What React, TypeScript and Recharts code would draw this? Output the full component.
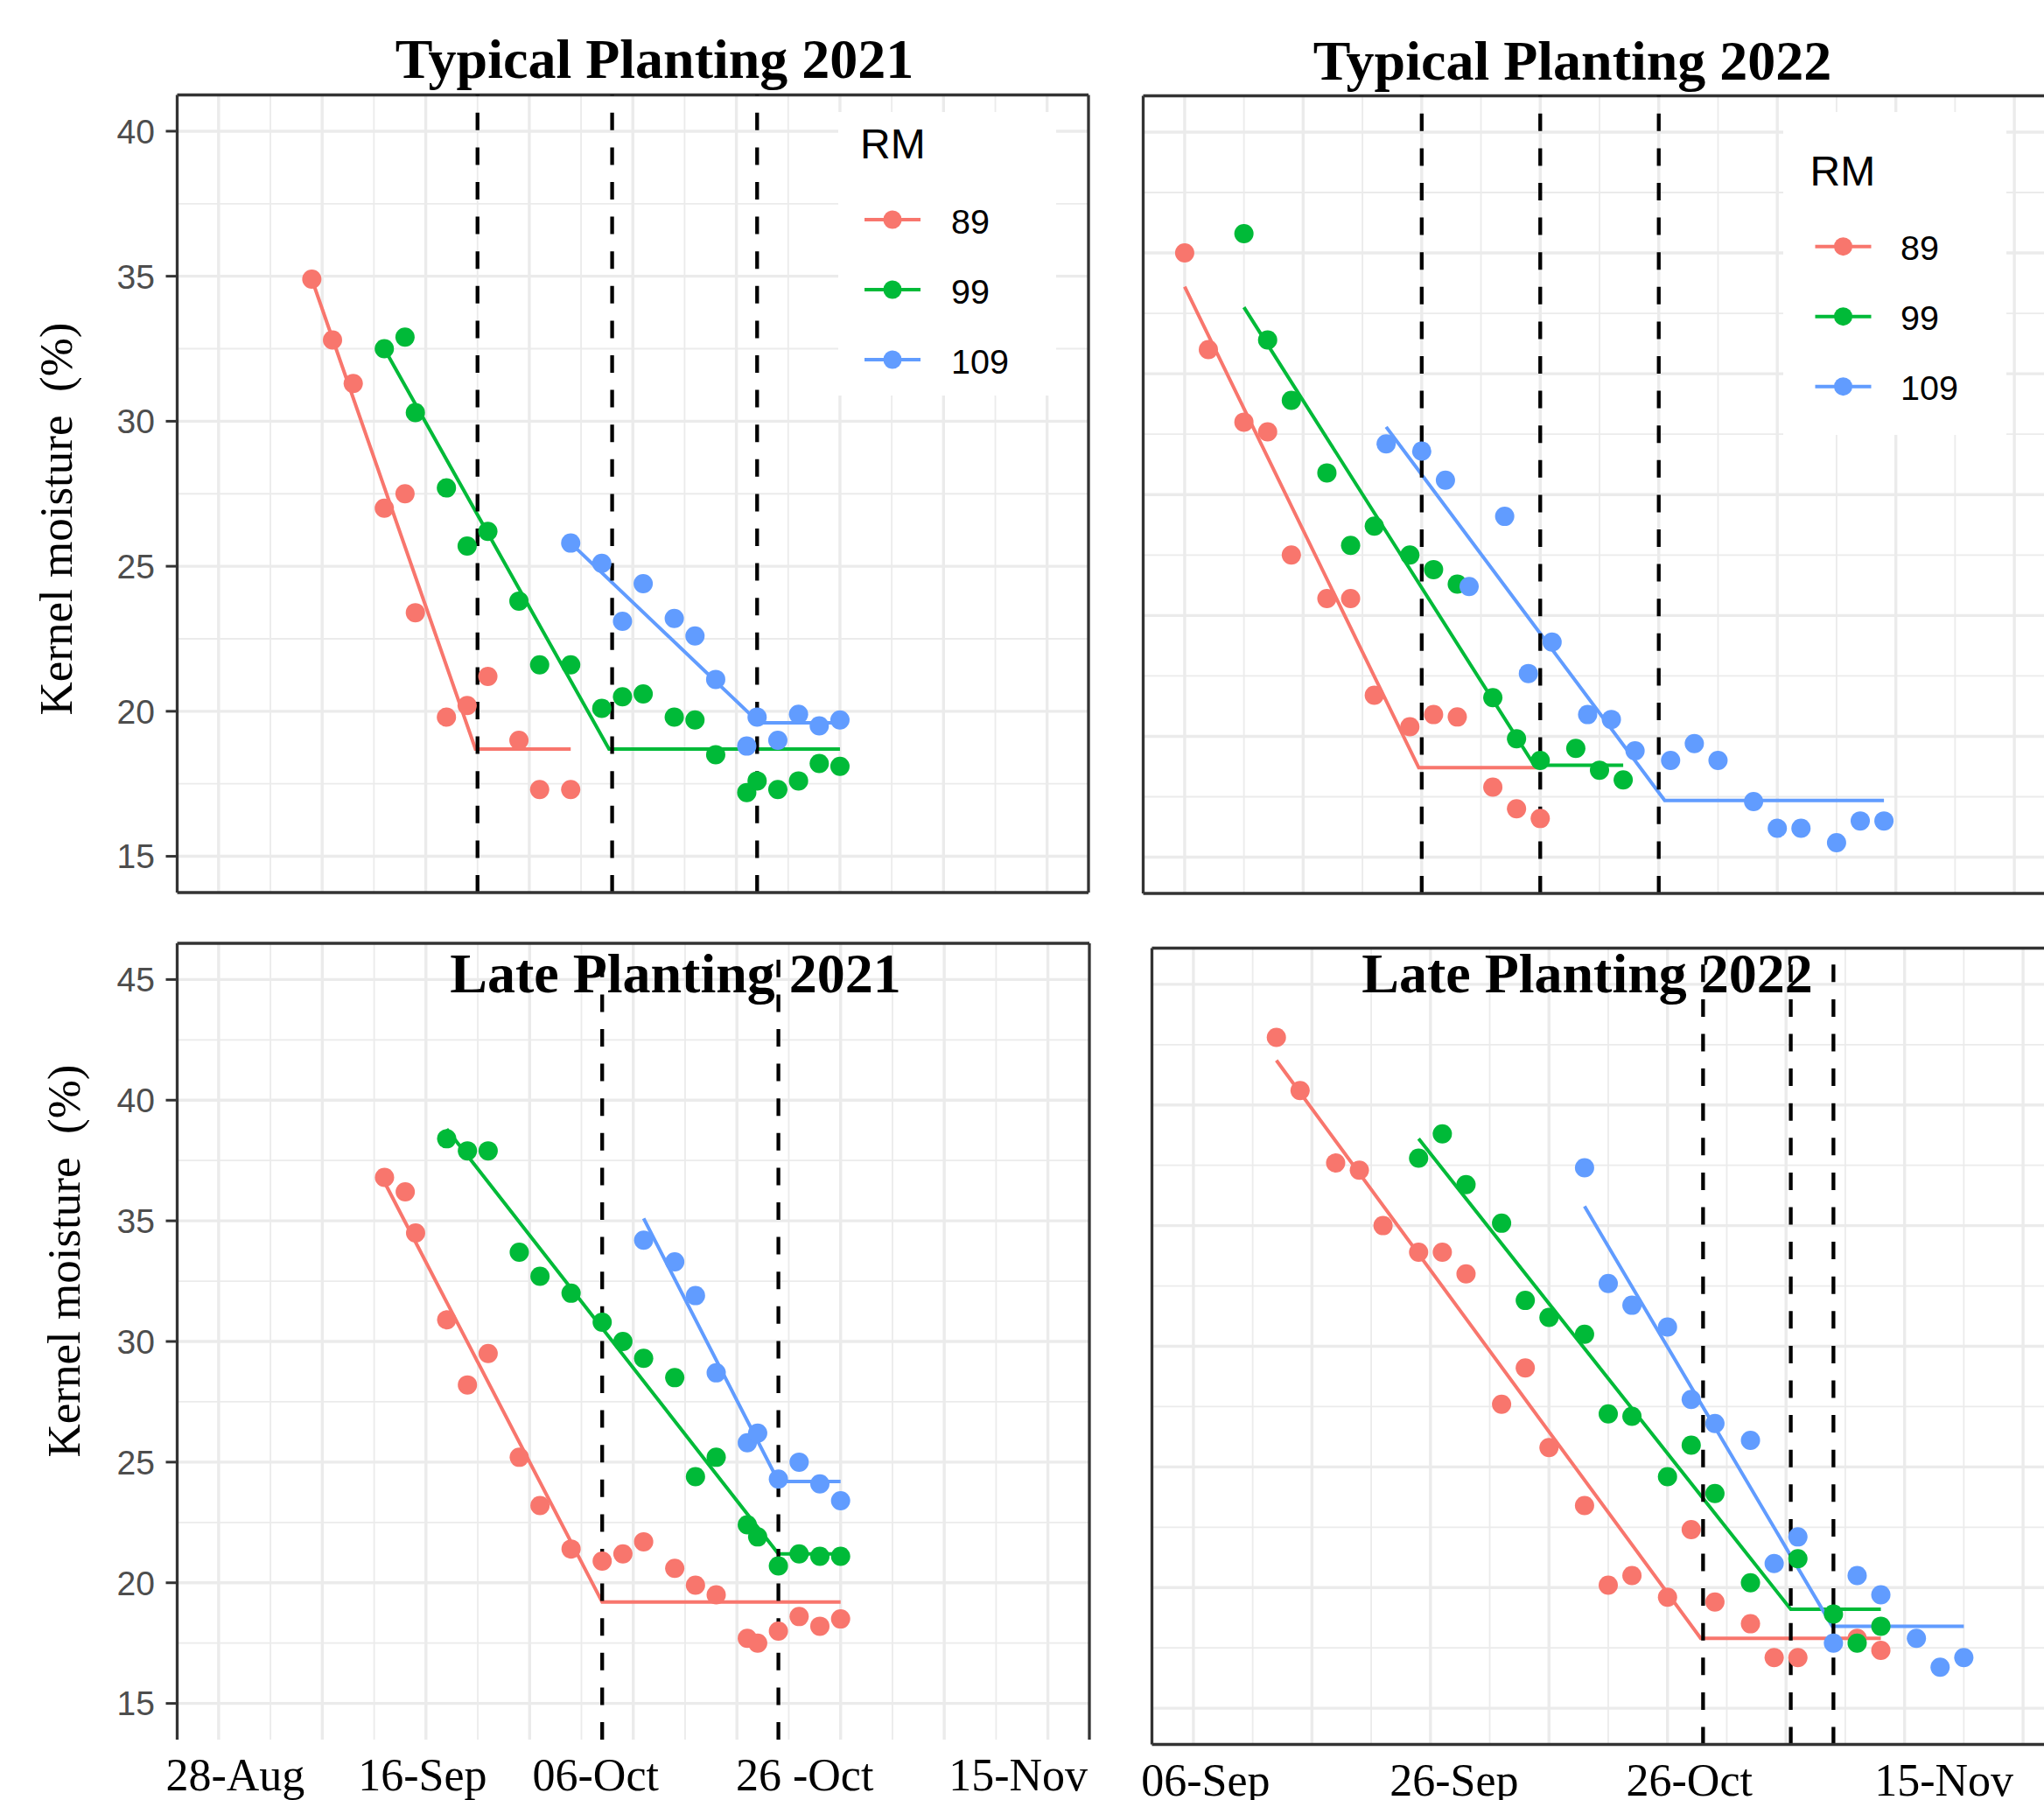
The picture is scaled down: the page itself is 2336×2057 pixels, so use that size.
import React from "react";
import { ComposedChart, Line, XAxis, YAxis, ReferenceLine, Legend } from "recharts";

const RM_LABELS = ["89", "99", "109"];
const RM_COLORS = ["#F8766D", "#00BA38", "#619CFF"];
const GRID = "#EBEBEB";
const INK = "#333333";

// Typical planting 2021, days after 27-Aug
const TP21_DAY_89 = [9, 11, 13, 16, 18, 19, 22, 24, 26, 29, 31, 34];
const TP21_KM_89 = [34.9, 32.8, 31.3, 27.0, 27.5, 23.4, 19.8, 20.2, 21.2, 19.0, 17.3, 17.3];
const TP21_DAY_99 = [16, 18, 19, 22, 24, 26, 29, 31, 34, 37, 39, 41, 44, 46, 48, 51, 52, 54, 56, 58, 60];
const TP21_KM_99 = [32.5, 32.9, 30.3, 27.7, 25.7, 26.2, 23.8, 21.6, 21.6, 20.1, 20.5, 20.6, 19.8, 19.7, 18.5, 17.2, 17.6, 17.3, 17.6, 18.2, 18.1];
const TP21_DAY_109 = [34, 37, 39, 41, 44, 46, 48, 51, 52, 54, 56, 58, 60];
const TP21_KM_109 = [25.8, 25.1, 23.1, 24.4, 23.2, 22.6, 21.1, 18.8, 19.8, 19.0, 19.9, 19.5, 19.7];
const TP21_FIT_DAY = [[9, 24.8, 34], [16, 37.7, 60], [34, 52.2, 60]];
const TP21_FIT_KM = [[34.9, 18.7, 18.7], [32.5, 18.7, 18.7], [25.8, 19.6, 19.6]];
const TP21_MATURITY = [25, 38, 52];

// Late planting 2021, days after 27-Aug
const LP21_DAY_89 = [16, 18, 19, 22, 24, 26, 29, 31, 34, 37, 39, 41, 44, 46, 48, 51, 52, 54, 56, 58, 60];
const LP21_KM_89 = [36.8, 36.2, 34.5, 30.9, 28.2, 29.5, 25.2, 23.2, 21.4, 20.9, 21.2, 21.7, 20.6, 19.9, 19.5, 17.7, 17.5, 18.0, 18.6, 18.2, 18.5];
const LP21_DAY_99 = [22, 24, 26, 29, 31, 34, 37, 39, 41, 44, 46, 48, 51, 52, 54, 56, 58, 60];
const LP21_KM_99 = [38.4, 37.9, 37.9, 33.7, 32.7, 32.0, 30.8, 30.0, 29.3, 28.5, 24.4, 25.2, 22.4, 21.9, 20.7, 21.2, 21.1, 21.1];
const LP21_DAY_109 = [41, 44, 46, 48, 51, 52, 54, 56, 58, 60];
const LP21_KM_109 = [34.2, 33.3, 31.9, 28.7, 25.8, 26.2, 24.3, 25.0, 24.1, 23.4];
const LP21_FIT_DAY = [[16, 37, 60], [22, 54, 60], [41, 54, 60]];
const LP21_FIT_KM = [[36.6, 19.2, 19.2], [38.8, 21.2, 21.2], [35.1, 24.2, 24.2]];
const LP21_MATURITY = [37, 54];

// Typical planting 2022, days after 06-Sep
const TP22_DAY_89 = [0, 2, 5, 7, 9, 12, 14, 16, 19, 21, 23, 26, 28, 30];
const TP22_KM_89 = [40.0, 36.0, 33.0, 32.6, 27.5, 25.7, 25.7, 21.7, 20.4, 20.9, 20.8, 17.9, 17.0, 16.6];
const TP22_DAY_99 = [5, 7, 9, 12, 14, 16, 19, 21, 23, 26, 28, 30, 33, 35, 37];
const TP22_KM_99 = [40.8, 36.4, 33.9, 30.9, 27.9, 28.7, 27.5, 26.9, 26.3, 21.6, 19.9, 19.0, 19.5, 18.6, 18.2];
const TP22_DAY_109 = [17, 20, 22, 24, 27, 29, 31, 34, 36, 38, 41, 43, 45, 48, 50, 52, 55, 57, 59];
const TP22_KM_109 = [32.1, 31.8, 30.6, 26.2, 29.1, 22.6, 23.9, 20.9, 20.7, 19.4, 19.0, 19.7, 19.0, 17.3, 16.2, 16.2, 15.6, 16.5, 16.5];
const TP22_FIT_DAY = [[0, 19.75, 30], [5, 29.5, 37], [17, 40.5, 59]];
const TP22_FIT_KM = [[38.6, 18.7, 18.7], [37.75, 18.8, 18.8], [32.8, 17.35, 17.35]];
const TP22_MATURITY = [20, 30, 40];

// Late planting 2022, days after 06-Sep
const LP22_DAY_89 = [7, 9, 12, 14, 16, 19, 21, 23, 26, 28, 30, 33, 35, 37, 40, 42, 44, 47, 49, 51, 56, 58];
const LP22_KM_89 = [42.8, 40.6, 37.6, 37.3, 35.0, 33.9, 33.9, 33.0, 27.6, 29.1, 25.8, 23.4, 20.1, 20.5, 19.6, 22.4, 19.4, 18.5, 17.1, 17.1, 17.9, 17.4];
const LP22_DAY_99 = [19, 21, 23, 26, 28, 30, 33, 35, 37, 40, 42, 44, 47, 51, 54, 56, 58];
const LP22_KM_99 = [37.8, 38.8, 36.7, 35.1, 31.9, 31.2, 30.5, 27.2, 27.1, 24.6, 25.9, 23.9, 20.2, 21.2, 18.9, 17.7, 18.4];
const LP22_DAY_109 = [33, 35, 37, 40, 42, 44, 47, 49, 51, 54, 56, 58, 61, 63, 65];
const LP22_KM_109 = [37.4, 32.6, 31.7, 30.8, 27.8, 26.8, 26.1, 21.0, 22.1, 17.7, 20.5, 19.7, 17.9, 16.7, 17.1];
const LP22_FIT_DAY = [[7, 42.8, 58], [19, 50.4, 58], [33, 53.9, 65]];
const LP22_FIT_KM = [[41.85, 17.9, 17.9], [38.6, 19.1, 19.1], [35.8, 18.4, 18.4]];
const LP22_MATURITY = [43, 50.4, 54];

// axis breaks and labels
const X21_MAJOR = [0, 10, 20, 30, 40, 50, 60, 70, 80];
const X21_MINOR = [5, 15, 25, 35, 45, 55, 65, 75];
const X22_MAJOR = [0, 10, 20, 30, 40, 50, 60, 70];
const X22_MINOR = [5, 15, 25, 35, 45, 55, 65];
const Y40_MAJOR = [15, 20, 25, 30, 35, 40];
const Y40_MINOR = [17.5, 22.5, 27.5, 32.5, 37.5];
const Y45_MAJOR = [15, 20, 25, 30, 35, 40, 45];
const Y45_MINOR = [17.5, 22.5, 27.5, 32.5, 37.5, 42.5];
const LATE21_DATE_LABELS = ["28-Aug", "", "16-Sep", "", "06-Oct", "", "26 -Oct", "", "15-Nov"];
const LATE22_DATE_LABELS = ["06-Sep", "", "26-Sep", "", "26-Oct", "", "15-Nov", ""];
const LATE21_LABEL_NUDGE = [19, 0, -4, 0, -43, 0, -41, 0, -34];
const LATE22_LABEL_NUDGE = [14, 0, 27, 0, 25, 0, 45, 0];

const zip = (xs, ys) => xs.map((x, i) => ({ x, y: ys[i] }));

const serif = "'Liberation Serif', 'Times New Roman', serif";
const sans = "'Liberation Sans', Arial, sans-serif";

function RmLegend({ w, h, rmX, rmY, rowY, lineX, labelX }) {
  return (
    <svg width={w} height={h} style={{ display: "block" }}>
      <rect width={w} height={h} fill="#fff" />
      <text x={rmX} y={rmY} fontSize={48} fontFamily={sans} fill="#000">RM</text>
      {RM_LABELS.map((lab, i) => {
        const cy = rowY + i * 80;
        return (
          <g key={lab}>
            <line x1={lineX} x2={lineX + 64} y1={cy} y2={cy} stroke={RM_COLORS[i]} strokeWidth={4} />
            <circle cx={lineX + 32} cy={cy} r={10.5} fill={RM_COLORS[i]} />
            <text x={labelX} y={cy + 15.5} fontSize={39.5} fontFamily={sans} fill="#000">{lab}</text>
          </g>
        );
      })}
    </svg>
  );
}

function makeDateTick(majors, labels, nudges) {
  return (props) => {
    const { x, y, payload } = props;
    const i = majors.indexOf(payload.value);
    if (i < 0 || !labels[i]) return <g />;
    return (
      <text x={x + nudges[i]} y={y + 58} textAnchor="middle" fontSize={52} fontFamily={serif} fill="#000">
        {labels[i]}
      </text>
    );
  };
}

function Panel({ p }) {
  const yTicksOn = !!p.yLabels;
  return (
    <div style={{ position: "absolute", left: p.left, top: p.top }}>
      <ComposedChart width={p.width} height={p.height} margin={p.margin}>
        {p.xMinor.map((v) => <ReferenceLine key={"xm" + v} x={v} stroke={GRID} strokeWidth={1.8} />)}
        {p.yMinor.map((v) => <ReferenceLine key={"ym" + v} y={v} stroke={GRID} strokeWidth={1.8} />)}
        {p.xMajor.map((v) => <ReferenceLine key={"xM" + v} x={v} stroke={GRID} strokeWidth={3.4} />)}
        {p.yMajor.map((v) => <ReferenceLine key={"yM" + v} y={v} stroke={GRID} strokeWidth={3.4} />)}
        <XAxis
          type="number"
          dataKey="x"
          domain={p.xDomain}
          allowDataOverflow
          ticks={p.xMajor}
          interval={0}
          height={p.xAxisHeight}
          axisLine={p.bottomBorder ? { stroke: INK, strokeWidth: 3.3 } : false}
          tickLine={p.dateLabels ? false : { stroke: INK, strokeWidth: 3 }}
          tickSize={p.dateLabels ? 0 : 4}
          tickMargin={0}
          tick={p.dateLabels ? makeDateTick(p.xMajor, p.dateLabels, p.labelNudge) : false}
        />
        <YAxis
          type="number"
          dataKey="y"
          domain={p.yDomain}
          allowDataOverflow
          ticks={p.yMajor}
          interval={0}
          width={p.yAxisWidth}
          axisLine={{ stroke: INK, strokeWidth: 3.3 }}
          tickLine={yTicksOn ? { stroke: INK, strokeWidth: 3 } : false}
          tickSize={yTicksOn ? 13 : 0}
          tickMargin={12.5}
          tick={yTicksOn ? { fontSize: 39, fill: "#4D4D4D", fontFamily: sans } : false}
        />
        <ReferenceLine y={p.yDomain[1]} stroke={INK} strokeWidth={3.3} ifOverflow="visible" />
        {p.rightBorder && <ReferenceLine x={p.xDomain[1]} stroke={INK} strokeWidth={3.3} ifOverflow="visible" />}
        {p.fitDay.map((fd, i) => (
          <Line
            key={"fit" + i}
            data={zip(fd, p.fitKm[i])}
            dataKey="y"
            type="linear"
            stroke={RM_COLORS[i]}
            strokeWidth={4}
            dot={false}
            activeDot={false}
            isAnimationActive={false}
          />
        ))}
        {p.obsDay.map((od, i) => (
          <Line
            key={"obs" + i}
            data={zip(od, p.obsKm[i])}
            dataKey="y"
            stroke="none"
            dot={{ r: 11, fill: RM_COLORS[i], stroke: "none" }}
            activeDot={false}
            isAnimationActive={false}
          />
        ))}
        {p.maturity.map((v) => (
          <ReferenceLine key={"mat" + v} x={v} stroke="#000" strokeWidth={4.3} strokeDasharray="20 19.6" />
        ))}
        {p.legend && (
          <Legend
            layout="horizontal"
            verticalAlign="middle"
            align="center"
            wrapperStyle={{ position: "absolute", left: p.legend.x, top: p.legend.y, width: p.legend.w, height: p.legend.h }}
            content={() => <RmLegend {...p.legend} />}
          />
        )}
      </ComposedChart>
    </div>
  );
}

const PANELS = [
  {
    left: 0, top: 0, width: 1262, height: 1040,
    margin: { top: 108.5, right: 18, bottom: 0, left: 0 },
    yAxisWidth: 202.5, xAxisHeight: 20,
    xDomain: [-4, 84], xMajor: X21_MAJOR, xMinor: X21_MINOR,
    yDomain: [13.75, 41.25], yMajor: Y40_MAJOR, yMinor: Y40_MINOR,
    yLabels: true, bottomBorder: true, rightBorder: true,
    obsDay: [TP21_DAY_89, TP21_DAY_99, TP21_DAY_109], obsKm: [TP21_KM_89, TP21_KM_99, TP21_KM_109],
    fitDay: TP21_FIT_DAY, fitKm: TP21_FIT_KM, maturity: TP21_MATURITY,
    legend: { x: 958, y: 128, w: 249, h: 324, rmX: 25, rmY: 53, rowY: 123, lineX: 30, labelX: 129 },
  },
  {
    left: 1240, top: 0, width: 1120, height: 1040,
    margin: { top: 109.5, right: 10.5, bottom: 0, left: 0 },
    yAxisWidth: 66.5, xAxisHeight: 19,
    xDomain: [-3.5, 73.5], xMajor: X22_MAJOR, xMinor: X22_MINOR,
    yDomain: [13.5, 46.5], yMajor: Y45_MAJOR, yMinor: Y45_MINOR,
    yLabels: false, bottomBorder: true, rightBorder: false,
    obsDay: [TP22_DAY_89, TP22_DAY_99, TP22_DAY_109], obsKm: [TP22_KM_89, TP22_KM_99, TP22_KM_109],
    fitDay: TP22_FIT_DAY, fitKm: TP22_FIT_KM, maturity: TP22_MATURITY,
    legend: { x: 797.5, y: 128, w: 255.5, h: 369, rmX: 30.5, rmY: 83.7, rowY: 153.7, lineX: 36.5, labelX: 134 },
  },
  {
    left: 0, top: 1040, width: 1262, height: 1017,
    margin: { top: 38, right: 17, bottom: 0, left: 0 },
    yAxisWidth: 202.5, xAxisHeight: 69,
    xDomain: [-4, 84], xMajor: X21_MAJOR, xMinor: X21_MINOR,
    yDomain: [13.5, 46.5], yMajor: Y45_MAJOR, yMinor: Y45_MINOR,
    yLabels: true, bottomBorder: false, rightBorder: true,
    dateLabels: LATE21_DATE_LABELS, labelNudge: LATE21_LABEL_NUDGE,
    obsDay: [LP21_DAY_89, LP21_DAY_99, LP21_DAY_109], obsKm: [LP21_KM_89, LP21_KM_99, LP21_KM_109],
    fitDay: LP21_FIT_DAY, fitKm: LP21_FIT_KM, maturity: LP21_MATURITY,
  },
  {
    left: 1240, top: 1040, width: 1130, height: 1017,
    margin: { top: 43.5, right: 10.5, bottom: 0, left: 0 },
    yAxisWidth: 76.5, xAxisHeight: 63.5,
    xDomain: [-3.5, 73.5], xMajor: X22_MAJOR, xMinor: X22_MINOR,
    yDomain: [13.5, 46.5], yMajor: Y45_MAJOR, yMinor: Y45_MINOR,
    yLabels: false, bottomBorder: true, rightBorder: false,
    dateLabels: LATE22_DATE_LABELS, labelNudge: LATE22_LABEL_NUDGE,
    obsDay: [LP22_DAY_89, LP22_DAY_99, LP22_DAY_109], obsKm: [LP22_KM_89, LP22_KM_99, LP22_KM_109],
    fitDay: LP22_FIT_DAY, fitKm: LP22_FIT_KM, maturity: LP22_MATURITY,
  },
];

const TITLES = [
  { text: "Typical Planting 2021", x: 748, y: 88.7 },
  { text: "Typical Planting 2022", x: 1797, y: 90.7 },
  { text: "Late Planting 2021", x: 772, y: 1133.5 },
  { text: "Late Planting 2022", x: 1814, y: 1133.5 },
];
const Y_TITLES = [
  { x: 82, y: 593 },
  { x: 91, y: 1441 },
];

export default function App() {
  return (
    <div style={{ position: "absolute", left: 0, top: 0, width: 2336, height: 2057, overflow: "hidden", background: "#fff" }}>
      {PANELS.map((p, i) => <Panel key={i} p={p} />)}
      <svg width={2336} height={2057} style={{ position: "absolute", left: 0, top: 0, pointerEvents: "none" }}>
        {TITLES.map((t) => (
          <text key={t.text} x={t.x} y={t.y} textAnchor="middle" fontFamily={serif} fontWeight="bold" fontSize={64} fill="#000">
            {t.text}
          </text>
        ))}
        {Y_TITLES.map((t, i) => (
          <text
            key={i}
            transform={`translate(${t.x},${t.y}) rotate(-90)`}
            textAnchor="middle"
            fontFamily={serif}
            fontSize={53}
            fill="#000"
            style={{ whiteSpace: "pre" }}
          >
            {"Kernel moisture  (%)"}
          </text>
        ))}
      </svg>
    </div>
  );
}
